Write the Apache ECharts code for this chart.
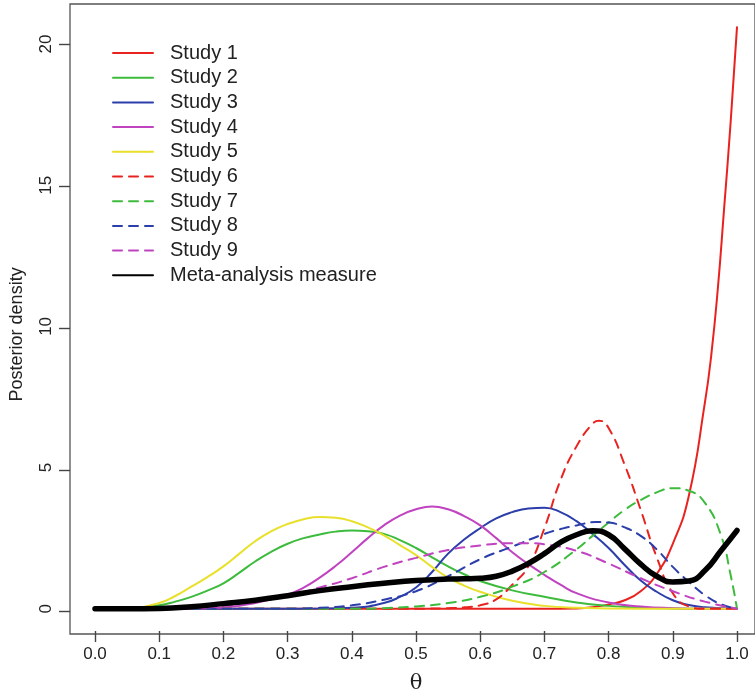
<!DOCTYPE html>
<html>
<head>
<meta charset="utf-8">
<script src="https://cdn.jsdelivr.net/npm/echarts@6/dist/echarts.min.js"></script>
<style>
html,body{margin:0;padding:0;background:#fff;}
#chart{width:755px;height:699px;}
</style>
</head>
<body>
<div id="chart"></div>
<script>
// ---- data ([theta, density]) ----
var seriesNames = ['Study 1','Study 2','Study 3','Study 4','Study 5','Study 6','Study 7','Study 8','Study 9','Meta-analysis measure'];
var xMin = 0, xMax = 1, xStep = 0.1;
var yMin = 0, yMax = 20, yStep = 5;

var study1 = [[0,0],[0.1,0],[0.2,0],[0.3,0],[0.4,0],[0.5,0],[0.6,0],[0.7,0],[0.75,0.01],[0.775,0.05],[0.8,0.15],[0.825,0.3],[0.85,0.62],[0.875,1.23],[0.9,2.3],[0.925,4.0],[0.95,7.3],[0.96,9.0],[0.97,11.3],[0.98,14.2],[0.99,17.2],[1.0,20.6]];
var study2 = [[0,0],[0.05,0.01],[0.1,0.12],[0.125,0.25],[0.15,0.42],[0.175,0.64],[0.2,0.9],[0.225,1.28],[0.25,1.68],[0.275,2.02],[0.3,2.3],[0.325,2.5],[0.35,2.63],[0.375,2.73],[0.4,2.77],[0.425,2.74],[0.45,2.65],[0.475,2.43],[0.5,2.15],[0.525,1.82],[0.55,1.5],[0.575,1.22],[0.6,0.98],[0.65,0.65],[0.7,0.42],[0.75,0.22],[0.8,0.1],[0.85,0.04],[0.9,0.01],[0.95,0],[1.0,0]];
var study3 = [[0,0],[0.3,0],[0.35,0.005],[0.4,0.03],[0.45,0.2],[0.475,0.42],[0.5,0.75],[0.525,1.3],[0.55,1.95],[0.575,2.45],[0.6,2.85],[0.625,3.2],[0.65,3.42],[0.675,3.55],[0.7,3.58],[0.725,3.42],[0.75,3.1],[0.775,2.65],[0.8,2.15],[0.825,1.55],[0.85,1.0],[0.875,0.6],[0.9,0.3],[0.925,0.13],[0.95,0.05],[1.0,0]];
var study4 = [[0,0],[0.15,0],[0.2,0.04],[0.25,0.2],[0.3,0.5],[0.325,0.75],[0.35,1.1],[0.375,1.52],[0.4,2.0],[0.425,2.5],[0.45,2.95],[0.475,3.3],[0.5,3.52],[0.525,3.62],[0.55,3.52],[0.575,3.28],[0.6,2.95],[0.625,2.5],[0.65,2.0],[0.675,1.58],[0.7,1.2],[0.725,0.85],[0.75,0.55],[0.8,0.22],[0.85,0.08],[0.9,0.02],[0.95,0],[1.0,0]];
var study5 = [[0,0],[0.05,0.01],[0.1,0.2],[0.125,0.45],[0.15,0.78],[0.175,1.12],[0.2,1.5],[0.225,1.95],[0.25,2.4],[0.275,2.75],[0.3,3.0],[0.325,3.17],[0.35,3.25],[0.375,3.22],[0.4,3.1],[0.425,2.88],[0.45,2.6],[0.475,2.25],[0.5,1.9],[0.525,1.48],[0.55,1.1],[0.575,0.82],[0.6,0.6],[0.65,0.28],[0.7,0.1],[0.75,0.03],[0.8,0.01],[0.85,0],[1.0,0]];
var study6 = [[0,0],[0.5,0],[0.55,0.02],[0.575,0.05],[0.6,0.12],[0.625,0.33],[0.65,0.85],[0.675,1.5],[0.7,2.85],[0.725,4.55],[0.75,5.75],[0.775,6.55],[0.785,6.66],[0.8,6.4],[0.825,5.1],[0.85,3.5],[0.875,1.82],[0.9,0.55],[0.925,0.08],[0.95,0],[1.0,0]];
var study7 = [[0,0],[0.4,0],[0.45,0.02],[0.5,0.08],[0.55,0.2],[0.6,0.42],[0.65,0.78],[0.7,1.3],[0.75,2.1],[0.775,2.58],[0.8,3.05],[0.825,3.5],[0.85,3.85],[0.875,4.12],[0.9,4.27],[0.925,4.18],[0.95,3.75],[0.975,2.6],[0.99,1.2],[1.0,0]];
var study8 = [[0,0],[0.3,0],[0.35,0.03],[0.4,0.12],[0.45,0.32],[0.5,0.62],[0.55,1.15],[0.6,1.75],[0.65,2.2],[0.7,2.65],[0.725,2.82],[0.75,2.95],[0.78,3.07],[0.8,3.05],[0.825,2.88],[0.85,2.58],[0.875,2.1],[0.9,1.48],[0.925,0.95],[0.95,0.48],[0.975,0.16],[1.0,0]];
var study9 = [[0,0],[0.1,0],[0.15,0.02],[0.2,0.1],[0.25,0.25],[0.3,0.45],[0.35,0.75],[0.4,1.08],[0.45,1.48],[0.5,1.8],[0.55,2.08],[0.6,2.24],[0.625,2.3],[0.65,2.32],[0.675,2.32],[0.7,2.28],[0.75,2.05],[0.8,1.6],[0.85,1.08],[0.9,0.62],[0.95,0.25],[1.0,0]];
var meta = [[0,0],[0.05,0],[0.1,0.01],[0.15,0.07],[0.2,0.18],[0.25,0.3],[0.3,0.46],[0.35,0.64],[0.4,0.78],[0.45,0.9],[0.5,1.0],[0.55,1.05],[0.575,1.06],[0.6,1.08],[0.625,1.15],[0.65,1.33],[0.675,1.6],[0.7,1.95],[0.725,2.35],[0.75,2.62],[0.775,2.76],[0.8,2.62],[0.825,2.12],[0.85,1.58],[0.875,1.15],[0.9,0.95],[0.925,0.98],[0.95,1.35],[0.975,2.05],[1.0,2.77]];

var allData = [study1,study2,study3,study4,study5,study6,study7,study8,study9,meta];
var colors = ['#E8231F','#3DBB3D','#2B3EAA','#C043C0','#E8E02A','#E8231F','#3DBB3D','#2B3EAA','#C043C0','#000000'];
var dashed = [false,false,false,false,false,true,true,true,true,false];

var series = allData.map(function(d,i){
  return {
    name: seriesNames[i],
    type: 'line',
    xAxisIndex: 1, yAxisIndex: 1,
    data: d,
    symbol: 'none',
    smooth: 0.5,
    clip: false,
    lineStyle: {
      color: colors[i],
      width: i === 9 ? 5.5 : 2,
      type: dashed[i] ? [9,7] : 'solid',
      cap: 'round'
    },
    itemStyle: {color: colors[i]},
    z: 2 + i
  };
});

var chart = echarts.init(document.getElementById('chart'), null, {renderer:'canvas'});
chart.setOption({
  animation: false,
  backgroundColor: '#ffffff',
  textStyle: {fontFamily: 'Liberation Sans, Arial, sans-serif'},
  grid: [
    { // plot box
      left: 70, top: 4, bottom: 65, right: -10,
      show: true, borderColor: '#555555', borderWidth: 1.3
    },
    { // data area: x 0..1, y 0..20
      left: 95, right: 18, top: 44.1, bottom: 87.3
    },
    { // y tick carrier: left edge on the box border
      left: 70, right: 18, top: 44.1, bottom: 87.3
    }
  ],
  legend: {
    data: seriesNames,
    orient: 'vertical',
    left: 112, top: 43,
    padding: 0,
    itemWidth: 40, itemHeight: 14, itemGap: 4.7,
    itemStyle: {opacity: 0},
    textStyle: {fontSize: 20, color: '#222', lineHeight: 20, padding: [0,0,0,12], fontFamily: 'Liberation Sans, Arial, sans-serif'},
    selectedMode: false
  },
  xAxis: [
    {gridIndex: 0, type: 'value', show: false, min: 0, max: 1},
    {
      gridIndex: 1,
      type: 'value',
      min: xMin, max: xMax, interval: xStep,
      offset: 22.3,
      name: 'θ',
      nameLocation: 'middle',
      nameGap: 42,
      nameTextStyle: {fontSize: 21, color: '#222', fontFamily: 'DejaVu Serif, Liberation Serif, serif'},
      axisLine: {show: false, onZero: false},
      axisTick: {show: true, length: 11, lineStyle: {color: '#444', width: 1.4}},
      axisLabel: {fontSize: 17, color: '#222', margin: 15, showMinLabel: true, showMaxLabel: true,
        formatter: function(v){ return v.toFixed(1); }},
      splitLine: {show: false}
    },
    {
      gridIndex: 2, type: 'value', min: 0, max: 1,
      axisLine: {show: false}, axisTick: {show: false}, axisLabel: {show: false}, splitLine: {show: false}
    }
  ],
  yAxis: [
    {gridIndex: 0, type: 'value', show: false, min: 0, max: 1},
    {
      gridIndex: 1,
      type: 'value',
      min: yMin, max: yMax, interval: yStep,
      offset: 25,
      name: 'Posterior density',
      nameLocation: 'middle',
      nameGap: 44,
      nameTextStyle: {fontSize: 18, color: '#222', padding: [0,16,0,0]},
      axisLine: {show: false, onZero: false},
      axisTick: {show: false},
      axisLabel: {fontSize: 17, color: '#222', rotate: 90, margin: 15, showMinLabel: true, showMaxLabel: true,
        formatter: function(v){ return String(v); }},
      splitLine: {show: false}
    },
    { // tick marks of the y axis
      gridIndex: 2,
      type: 'value',
      min: yMin, max: yMax, interval: yStep,
      axisLine: {show: false},
      axisTick: {show: true, length: 11, lineStyle: {color: '#444', width: 1.4}},
      axisLabel: {show: false},
      splitLine: {show: false}
    }
  ],
  series: series
});
</script>
</body>
</html>
